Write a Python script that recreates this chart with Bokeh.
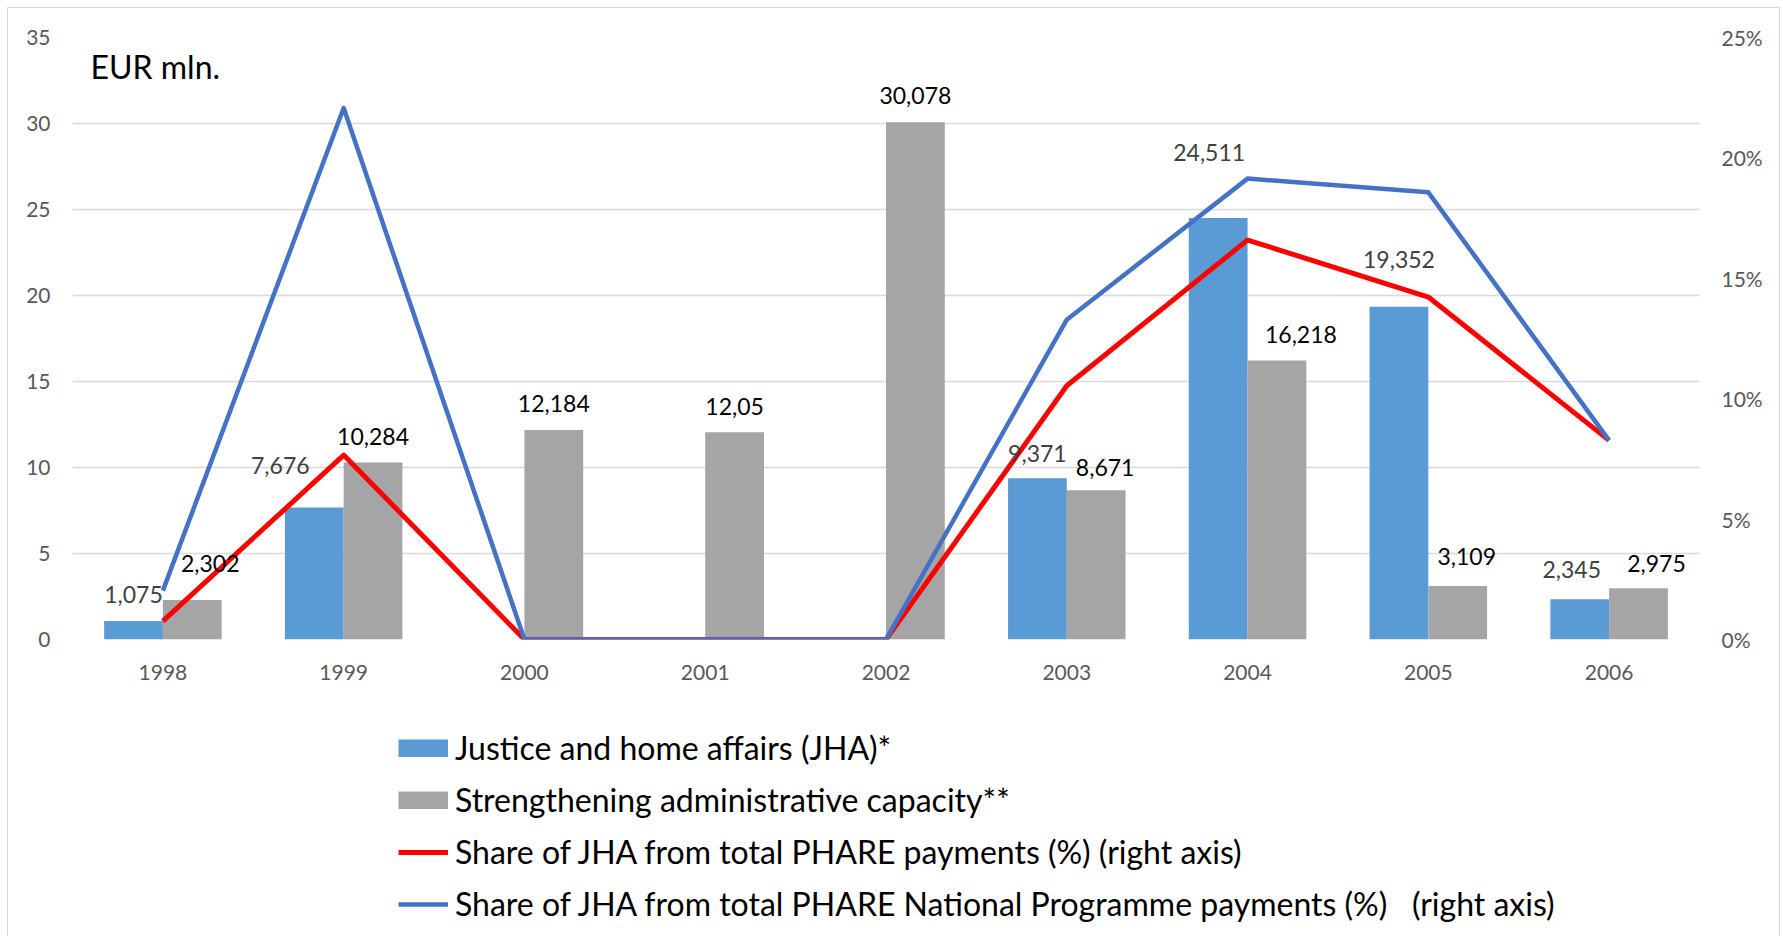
from bokeh.plotting import figure
from bokeh.layouts import column
from bokeh.models import (ColumnDataSource, FactorRange, Range1d, LinearAxis, SingleIntervalTicker,
                          PrintfTickFormatter, LabelSet, Label, Legend, LegendItem)
from bokeh.core.properties import value
from bokeh.transform import dodge
from bokeh.embed import file_html
from bokeh.resources import INLINE

# ---------------- data ----------------
years = ["1998", "1999", "2000", "2001", "2002", "2003", "2004", "2005", "2006"]
jha = [1.075, 7.676, 0, 0, 0, 9.371, 24.511, 19.352, 2.345]
admin = [2.302, 10.284, 12.184, 12.05, 30.078, 8.671, 16.218, 3.109, 2.975]
share_phare = [0.76, 7.66, 0, 0, 0, 10.54, 16.59, 14.22, 8.27]
share_np = [2.03, 22.07, 0, 0, 0, 13.28, 19.14, 18.57, 8.27]

series_names = ["Justice and home affairs (JHA)*",
                "Strengthening administrative capacity**",
                "Share of JHA from total PHARE payments (%) (right axis)",
                "Share of JHA from total PHARE National Programme payments (%)\u00a0\u00a0 (right axis)"]

# label offsets (style, screen px)
jha_dx = [0, -34, 0, 0, 0, 0, -9, 0, -8]
jha_dy = [27, 42, 0, 0, 0, 25, 65, 47, 30]
adm_dx = [18, 0, 0, 0, 0, 9, 24, 9, 18]
adm_dy = [36, 26, 26, 26, 27, 23, 26, 30, 25]

FONT = "Lato"
BLUE = "#5B9BD5"
GRAY = "#A5A5A5"
RED = "#FF0000"
LBLUE = "#4472C4"
BORDER = "#D9D9D9"


def fmt(v):
    return f"{v:g}".replace(".", ",")


def frame_styles(top=True):
    g = f"linear-gradient({BORDER},{BORDER})"
    if top:
        return {"background-color": "white",
                "background-image": f"{g}, {g}, {g}",
                "background-position": "7px 7px, 7px 7px, 1779px 7px",
                "background-size": "1px 100%, 1773px 1px, 1px 100%",
                "background-repeat": "no-repeat"}
    return {"background-color": "white",
            "background-image": f"{g}, {g}",
            "background-position": "7px 0px, 1779px 0px",
            "background-size": "1px 100%, 1px 100%",
            "background-repeat": "no-repeat"}


src = ColumnDataSource(dict(years=years, jha=jha, admin=admin,
                            share_phare=share_phare, share_np=share_np))

W, H1, H2 = 1782, 700, 236
p = figure(x_range=FactorRange(*years), y_range=Range1d(0, 35),
           width=W, height=H1, output_backend="svg", toolbar_location=None,
           min_border_left=72, min_border_right=83, min_border_top=37, min_border_bottom=61)
p.extra_y_ranges = {"pct": Range1d(0, 25)}
p.outline_line_color = None
p.background_fill_color = None
p.border_fill_color = None
p.styles = frame_styles(True)

bw = 0.325
b1 = p.vbar(x=dodge("years", -0.1625, range=p.x_range), top="jha", width=bw, source=src,
            fill_color=BLUE, line_color=None)
b2 = p.vbar(x=dodge("years", 0.1625, range=p.x_range), top="admin", width=bw, source=src,
            fill_color=GRAY, line_color=None)
l1 = p.line(x="years", y="share_phare", source=src, y_range_name="pct",
            line_color=RED, line_width=5, line_join="round")
l2 = p.line(x="years", y="share_np", source=src, y_range_name="pct",
            line_color=LBLUE, line_width=4.5, line_join="round")

# data labels
idx_j = [i for i, v in enumerate(jha) if v > 0]
lab_j = ColumnDataSource(dict(years=[years[i] for i in idx_j], v=[jha[i] for i in idx_j],
                              t=[fmt(jha[i]) for i in idx_j],
                              dx=[jha_dx[i] for i in idx_j], dy=[jha_dy[i] for i in idx_j]))
lab_a = ColumnDataSource(dict(years=years, v=admin, t=[fmt(v) for v in admin],
                              dx=adm_dx, dy=adm_dy))
p.add_layout(LabelSet(x=dodge("years", -0.1625, range=p.x_range), y="v", text="t", source=lab_j,
                      x_offset="dx", y_offset="dy", text_align="center", text_baseline="middle",
                      text_font=value(FONT), text_font_size=value("23px"),
                      text_color=value("#404040")))
p.add_layout(LabelSet(x=dodge("years", 0.1625, range=p.x_range), y="v", text="t", source=lab_a,
                      x_offset="dx", y_offset="dy", text_align="center", text_baseline="middle",
                      text_font=value(FONT), text_font_size=value("23px"),
                      text_color=value("#000000")))

p.add_layout(Label(x=0, y=35, x_offset=18, y_offset=-29, text="EUR mln.", text_font=FONT,
                   text_font_size="32px", text_color="#000000", text_baseline="alphabetic"))

# axes
p.yaxis[0].ticker = SingleIntervalTicker(interval=5)
ax_r = LinearAxis(y_range_name="pct", ticker=SingleIntervalTicker(interval=5),
                  formatter=PrintfTickFormatter(format="%d%%"))
p.add_layout(ax_r, "right")
for ax in [p.yaxis[0], ax_r, p.xaxis[0]]:
    ax.axis_line_color = None
    ax.major_tick_line_color = None
    ax.minor_tick_line_color = None
    ax.major_tick_in = 0
    ax.major_tick_out = 0
    ax.major_label_text_font = FONT
    ax.major_label_text_font_size = "21px"
    ax.major_label_text_color = "#595959"
p.yaxis[0].major_label_standoff = 18
ax_r.major_label_standoff = 18
p.xaxis.major_label_standoff = 25

p.xgrid.grid_line_color = None
p.ygrid.grid_line_color = "#D9D9D9"
p.ygrid.grid_line_width = 1.5
p.ygrid.ticker = SingleIntervalTicker(interval=5)

# ---------------- legend figure ----------------
q = figure(x_range=Range1d(0, 1), y_range=Range1d(0, 1), width=W, height=H2,
           output_backend="svg", toolbar_location=None,
           min_border_left=0, min_border_right=0, min_border_top=0, min_border_bottom=0)
q.axis.visible = False
q.grid.visible = False
q.outline_line_color = None
q.background_fill_color = None
q.border_fill_color = None
q.styles = frame_styles(False)
proxy = ColumnDataSource(dict(x=[-5.0, -4.0], y=[-5.0, -4.0]))
# legend swatches (proxies drawn outside the visible range)
r1 = q.line(x="x", y="y", source=proxy, line_color=BLUE, line_width=18, line_cap="butt")
r2 = q.line(x="x", y="y", source=proxy, line_color=GRAY, line_width=18, line_cap="butt")
r3 = q.line(x="x", y="y", source=proxy, line_color=RED, line_width=5)
r4 = q.line(x="x", y="y", source=proxy, line_color=LBLUE, line_width=4.5)

legend = Legend(items=[LegendItem(label=n, renderers=[r]) for n, r in zip(series_names, [r1, r2, r3, r4])],
                location=(326, 13), orientation="vertical", glyph_width=50, glyph_height=18,
                label_standoff=7, spacing=13, padding=0, margin=0, border_line_color=None,
                background_fill_alpha=0, label_text_font=FONT, label_text_font_size="32px",
                label_text_color="#000000")
q.add_layout(legend)

layout = column(p, q, spacing=0)
open("out.html", "w").write(file_html(layout, INLINE))
